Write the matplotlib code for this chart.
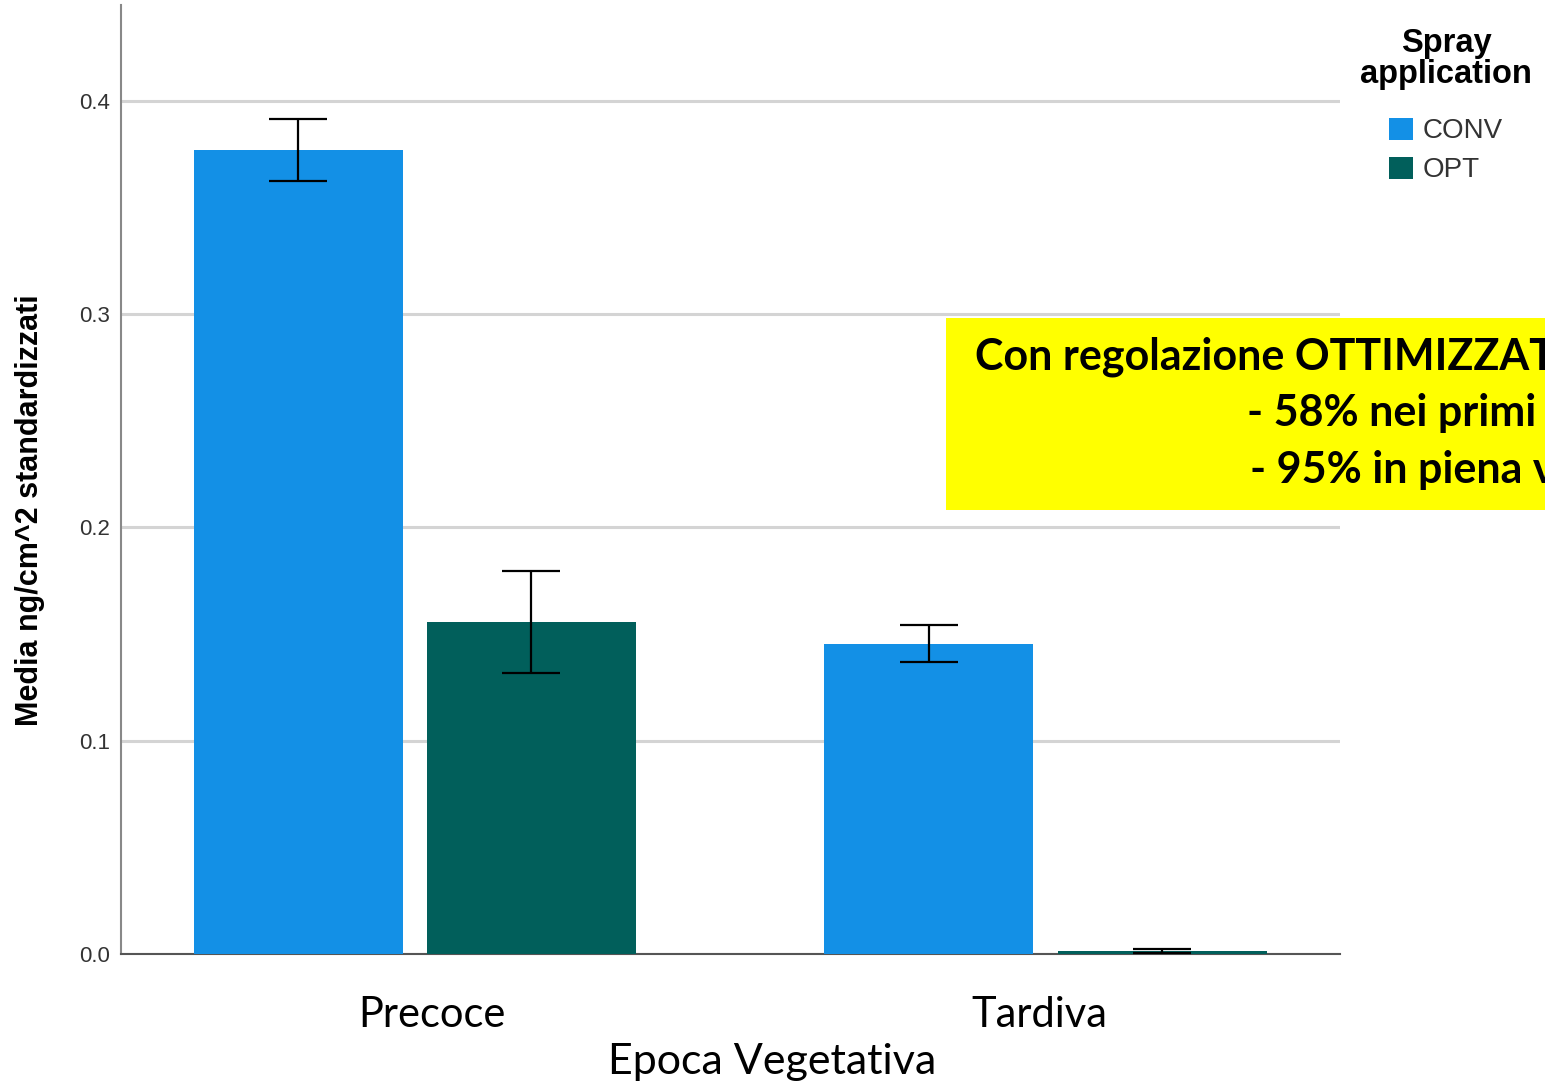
import numpy as np
import matplotlib
matplotlib.use("Agg")
import matplotlib.pyplot as plt
from matplotlib.patches import Rectangle

# dati
epoche = ["Precoce", "Tardiva"]
conv_media = [0.377, 0.1455]
conv_err = [0.0145, 0.0087]
opt_media = [0.1557, 0.0015]
opt_err = [0.0240, 0.0008]
serie = ["CONV", "OPT"]
colori = ["#1390E6", "#015F5B"]
y_ticks = [0.0, 0.1, 0.2, 0.3, 0.4]

box_righe = ["Con regolazione OTTIMIZZATA:", "- 58% nei primi stadi", "- 95% in piena vegetazione"]

W, H = 1545, 1085
fig = plt.figure(figsize=(W / 100, H / 100), dpi=100)
ax = fig.add_axes([121 / W, 1 - 954 / H, (1340 - 121) / W, (954 - 5) / H])

x = np.arange(len(epoche))
w = 0.3315
off = 0.1848
ax.bar(x - off, conv_media, w, color=colori[0], label=serie[0], zorder=3)
ax.bar(x + off, opt_media, w, color=colori[1], label=serie[1], zorder=3)
ax.errorbar(x - off, conv_media, yerr=conv_err, fmt="none", ecolor="black",
            elinewidth=1.6, capsize=21, capthick=1.6, zorder=4)
ax.errorbar(x + off, opt_media, yerr=opt_err, fmt="none", ecolor="black",
            elinewidth=1.6, capsize=21, capthick=1.6, zorder=4)

ax.set_xlim(-0.466, 1.467)
ax.set_ylim(0, 0.445)
ax.set_yticks(y_ticks)
ax.set_yticklabels([f"{v:.1f}" for v in y_ticks], fontsize=16, color="#333333",
                   family="Liberation Sans")
ax.yaxis.grid(True, color="#d4d4d4", linewidth=2.2, zorder=0)
ax.set_axisbelow(True)
ax.tick_params(axis="y", length=0, pad=8)
# le etichette delle epoche non sono centrate esattamente sui gruppi
ax.set_xticks(x + np.array([0.027, -0.009]))
ax.set_xticklabels(epoche, fontsize=30, family="Lato")
ax.tick_params(axis="x", length=0, pad=30)

for s in ["top", "right"]:
    ax.spines[s].set_visible(False)
ax.spines["left"].set_color("#888888")
ax.spines["left"].set_linewidth(1.5)
ax.spines["bottom"].set_color("#555555")
ax.spines["bottom"].set_linewidth(1.5)

ax.set_ylabel("Media ng/cm^2 standardizzati", fontsize=22, fontweight="bold",
              family="Liberation Sans")
ax.yaxis.set_label_coords(-0.062, 0.468)
ax.set_xlabel("Epoca Vegetativa", fontsize=31, family="Lato")
ax.xaxis.set_label_coords((772 - 121) / 1219, -0.094)

leg = fig.legend(loc="upper center", bbox_to_anchor=(1446 / W, 1 - 14 / H),
                 title="Spray\napplication", frameon=False,
                 prop={"family": "Liberation Sans", "size": 20},
                 title_fontproperties={"family": "Liberation Sans", "size": 23.5, "weight": "bold"},
                 handlelength=0.85, handleheight=0.85, handletextpad=0.35,
                 labelspacing=0.44, borderpad=0)
leg.get_title().set_multialignment("center")
leg.get_title().set_linespacing(1.0)
leg._legend_box.sep = 20  # piu' spazio tra titolo e voci
for t in leg.get_texts():
    t.set_color("#333333")

# riquadro giallo
fig.patches.append(Rectangle((946 / W, 1 - 510 / H), 0.5, (510 - 318) / H,
                             transform=fig.transFigure, facecolor="#FFFF00",
                             edgecolor="none", zorder=5))
pos_x = [975, 1247, 1250]
pos_y = [357, 413, 470]
for riga, px, py in zip(box_righe, pos_x, pos_y):
    fig.text(px / W, 1 - py / H, riga, fontsize=31, fontweight="bold",
             family="Lato", ha="left", va="center", zorder=6)

fig.savefig("out.png", dpi=100)
